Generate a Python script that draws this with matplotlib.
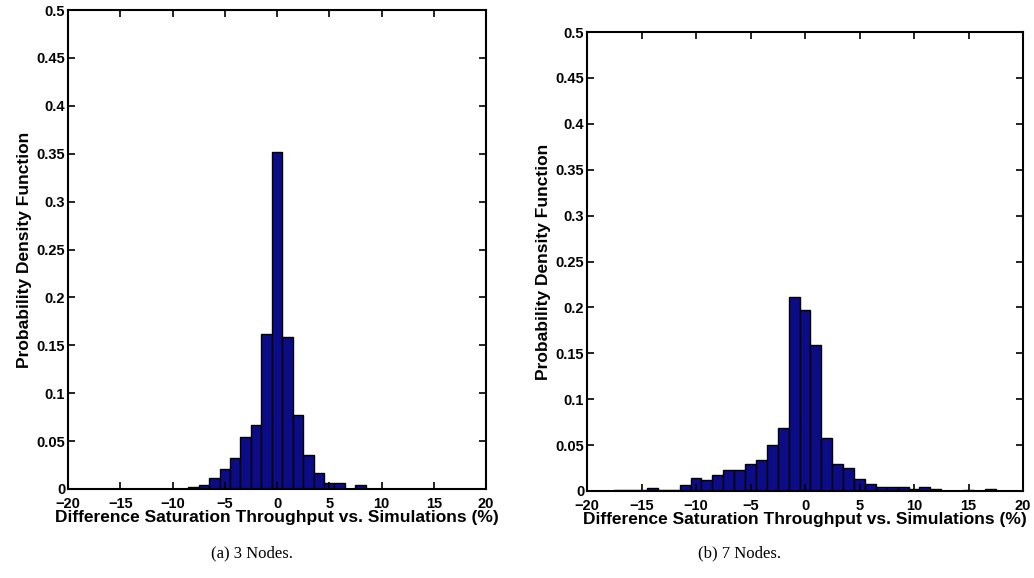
import matplotlib
matplotlib.use("Agg")
import matplotlib.pyplot as plt

# ---- data ----
bins_a = [-8, -7, -6, -5, -4, -3, -2, -1, 0, 1, 2, 3, 4, 5, 6, 7, 8]
pdf_a = [0.002, 0.004, 0.012, 0.0206, 0.032, 0.0547, 0.0666, 0.162, 0.352,
         0.159, 0.077, 0.035, 0.0164, 0.0066, 0.0066, 0.0, 0.0045]

bins_b = [-17, -16, -15, -14, -13, -12, -11, -10, -9, -8, -7, -6, -5, -4, -3,
          -2, -1, 0, 1, 2, 3, 4, 5, 6, 7, 8, 9, 10, 11, 12, 13, 14, 15, 16, 17]
pdf_b = [0.0015, 0.001, 0.0015, 0.003, 0.0015, 0.0015, 0.0065, 0.0145, 0.0124,
         0.017, 0.0225, 0.0225, 0.029, 0.0335, 0.0505, 0.069, 0.2116, 0.197,
         0.159, 0.058, 0.029, 0.025, 0.0127, 0.008, 0.004, 0.004, 0.004, 0.002,
         0.004, 0.002, 0.0, 0.0, 0.0008, 0.0, 0.002]

xticks = [-20, -15, -10, -5, 0, 5, 10, 15, 20]
yticks = [0, 0.05, 0.1, 0.15, 0.2, 0.25, 0.3, 0.35, 0.4, 0.45, 0.5]
ytick_labels = ["0", "0.05", "0.1", "0.15", "0.2", "0.25", "0.3", "0.35",
                "0.4", "0.45", "0.5"]
xlabel = "Difference Saturation Throughput vs. Simulations (%)"
ylabel = "Probability Density Function"
captions = ["(a) 3 Nodes.", "(b) 7 Nodes."]

plt.rcParams['font.family'] = ['Liberation Sans', 'DejaVu Sans']

fig = plt.figure(figsize=(10.34, 5.78), dpi=100)
W, H = 1034, 578


def make_ax(x0, x1, y0, y1):
    return fig.add_axes([x0 / W, 1 - y1 / H, (x1 - x0) / W, (y1 - y0) / H])


axes = [make_ax(68, 486, 10, 489), make_ax(587, 1023, 32, 491)]
datasets = [(bins_a, pdf_a), (bins_b, pdf_b)]
cap_x = [252, 740]

for ax, (b, p), cx, cap in zip(axes, datasets, cap_x, captions):
    ax.bar(b, p, width=1.0, color='#0c0c86', edgecolor='black', linewidth=1.0)
    ax.set_xlim(-20, 20)
    ax.set_ylim(0, 0.5)
    ax.set_xticks(xticks)
    ax.set_yticks(yticks)
    ax.set_yticklabels(ytick_labels)
    ax.tick_params(direction='in', top=True, right=True, length=5, width=1.2,
                   labelsize=10.5)
    ax.tick_params(axis='x', pad=6)
    ax.tick_params(axis='y', pad=2)
    for lab in ax.get_xticklabels() + ax.get_yticklabels():
        lab.set_fontweight('bold')
    for s in ax.spines.values():
        s.set_linewidth(1.5)
    ax.set_xlabel(xlabel, fontsize=12.5, fontweight='bold', labelpad=-1)
    ax.set_ylabel(ylabel, fontsize=12.5, fontweight='bold', labelpad=3)
    fig.text(cx / W, 1 - 553 / H, cap, fontsize=12, ha='center', va='center',
             family=['Liberation Serif', 'DejaVu Serif'])

fig.savefig("out.png", dpi=100)
